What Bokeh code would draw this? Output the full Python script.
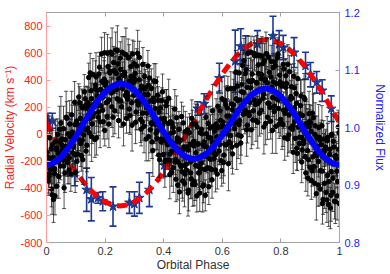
from bokeh.plotting import figure
from bokeh.models import (Range1d, LinearAxis, FixedTicker, PrintfTickFormatter,
                          NumeralTickFormatter, ColumnDataSource)
from bokeh.embed import file_html
from bokeh.resources import INLINE

# ---------------- data ----------------
X_TICKS = [0, 0.2, 0.4, 0.6, 0.8, 1.0]
RV_TICKS = [-800, -600, -400, -200, 0, 200, 400, 600, 800]
FLUX_TICKS = [0.8, 0.9, 1.0, 1.1, 1.2]

# photometric points, set A (normalized flux)
PHOT_A_PHASE = [
    0.002, 0.006, 0.011, 0.014, 0.019, 0.023, 0.027, 0.031, 0.035, 0.040, 0.044, 0.048,
    0.052, 0.057, 0.060, 0.064, 0.069, 0.073, 0.077, 0.081, 0.086, 0.089, 0.094, 0.098,
    0.102, 0.106, 0.110, 0.115, 0.119, 0.123, 0.127, 0.132, 0.135, 0.139, 0.144, 0.148,
    0.152, 0.156, 0.161, 0.165, 0.169, 0.173, 0.177, 0.181, 0.185, 0.190, 0.194, 0.198,
    0.202, 0.207, 0.210, 0.214, 0.219, 0.223, 0.227, 0.231, 0.236, 0.240, 0.244, 0.248,
    0.252, 0.256, 0.260, 0.265, 0.269, 0.273, 0.277, 0.282, 0.285, 0.289, 0.294, 0.298,
    0.302, 0.306, 0.311, 0.315, 0.319, 0.323, 0.327, 0.331, 0.335, 0.340, 0.344, 0.348,
    0.352, 0.357, 0.360, 0.364, 0.369, 0.373, 0.377, 0.381, 0.386, 0.390, 0.394, 0.398,
    0.402, 0.406, 0.410, 0.415, 0.419, 0.423, 0.427, 0.432, 0.435, 0.439, 0.444, 0.448,
    0.452, 0.456, 0.461, 0.465, 0.469, 0.473, 0.477, 0.481, 0.485, 0.490, 0.494, 0.498,
    0.502, 0.507, 0.510, 0.514, 0.519, 0.523, 0.527, 0.531, 0.536, 0.540, 0.544, 0.548,
    0.552, 0.556, 0.560, 0.565, 0.569, 0.573, 0.577, 0.582, 0.585, 0.589, 0.594, 0.598,
    0.602, 0.606, 0.611, 0.615, 0.619, 0.623, 0.627, 0.631, 0.635, 0.640, 0.644, 0.648,
    0.652, 0.657, 0.660, 0.664, 0.669, 0.673, 0.677, 0.681, 0.686, 0.690, 0.694, 0.698,
    0.702, 0.706, 0.710, 0.715, 0.719, 0.723, 0.727, 0.732, 0.735, 0.739, 0.744, 0.748,
    0.752, 0.756, 0.761, 0.765, 0.769, 0.773, 0.777, 0.781, 0.785, 0.790, 0.794, 0.798,
    0.802, 0.807, 0.810, 0.814, 0.819, 0.823, 0.827, 0.831, 0.836, 0.840, 0.844, 0.848,
    0.852, 0.856, 0.860, 0.865, 0.869, 0.873, 0.877, 0.882, 0.885, 0.889, 0.894, 0.898,
    0.902, 0.906, 0.911, 0.915, 0.919, 0.923, 0.927, 0.931, 0.935, 0.940, 0.944, 0.948,
    0.952, 0.957, 0.960, 0.964, 0.969, 0.973, 0.977, 0.981, 0.986, 0.990, 0.994, 0.998,
]
PHOT_A_FLUX = [
    0.957, 0.907, 0.982, 0.927, 0.883, 0.948, 0.920, 0.976, 0.898, 0.955, 0.997, 0.933,
    0.980, 0.943, 0.895, 0.979, 1.016, 0.939, 0.926, 0.984, 1.022, 0.956, 0.984, 0.922,
    1.011, 0.954, 1.053, 0.992, 0.951, 1.034, 0.987, 1.050, 0.959, 1.033, 1.087, 1.015,
    1.064, 1.006, 1.040, 0.979, 1.088, 1.065, 1.018, 1.105, 1.038, 1.080, 1.010, 1.130,
    1.073, 1.019, 1.106, 1.048, 1.131, 1.036, 1.018, 1.099, 1.135, 1.066, 1.111, 1.047,
    1.121, 1.036, 1.091, 1.128, 1.056, 1.016, 1.049, 1.122, 1.021, 1.089, 1.128, 1.056,
    1.094, 1.027, 1.129, 1.042, 1.064, 0.997, 1.010, 1.067, 1.089, 0.980, 1.042, 1.074,
    1.086, 1.008, 0.975, 1.051, 1.013, 1.080, 0.981, 1.047, 0.944, 1.015, 1.047, 0.978,
    1.016, 0.943, 1.045, 0.971, 0.943, 1.010, 0.922, 1.000, 0.972, 0.940, 1.017, 0.900,
    0.997, 0.935, 1.019, 0.907, 0.966, 0.919, 0.936, 0.996, 0.891, 0.971, 0.911, 1.006,
    0.976, 0.901, 0.956, 1.001, 0.921, 0.886, 0.928, 0.989, 0.900, 0.967, 1.018, 0.949,
    1.007, 0.929, 0.982, 0.909, 1.002, 0.954, 0.926, 0.984, 1.037, 0.959, 1.012, 0.925,
    1.009, 0.952, 1.040, 0.989, 1.067, 0.975, 0.973, 1.041, 0.954, 1.068, 1.026, 1.009,
    1.072, 1.005, 1.048, 0.985, 1.108, 1.061, 1.024, 1.101, 1.004, 1.081, 1.044, 1.131,
    1.093, 1.029, 1.125, 1.012, 1.078, 1.109, 1.025, 1.085, 1.124, 1.051, 1.117, 1.007,
    1.128, 1.042, 1.096, 1.011, 1.070, 1.104, 1.028, 1.107, 1.050, 1.128, 1.006, 1.075,
    1.077, 1.005, 1.102, 1.025, 1.077, 0.980, 0.987, 1.049, 1.071, 0.997, 1.089, 1.011,
    1.059, 0.955, 1.022, 0.983, 1.055, 0.961, 0.972, 1.049, 0.921, 1.007, 0.944, 1.011,
    1.008, 0.925, 1.017, 0.903, 0.955, 0.982, 0.900, 0.983, 0.925, 1.003, 0.875, 0.958,
    0.966, 0.874, 0.983, 0.906, 0.860, 0.988, 0.887, 0.966, 0.871, 0.946, 0.906, 0.991,
]
PHOT_A_ERR = [
    0.030, 0.025, 0.038, 0.022, 0.034, 0.028, 0.026, 0.035, 0.021, 0.031, 0.040, 0.024,
    0.033, 0.027, 0.036, 0.020, 0.029, 0.037, 0.024, 0.032, 0.041, 0.026, 0.022, 0.035,
    0.029, 0.038, 0.023, 0.033, 0.027, 0.031, 0.036, 0.021, 0.030, 0.039, 0.025, 0.028,
    0.027, 0.034, 0.024, 0.031, 0.042, 0.022, 0.032, 0.026, 0.037, 0.023, 0.030, 0.035,
    0.021, 0.039, 0.028, 0.033, 0.025, 0.036, 0.034, 0.024, 0.031, 0.040, 0.027, 0.022,
    0.028, 0.036, 0.023, 0.030, 0.038, 0.026, 0.037, 0.022, 0.033, 0.027, 0.024, 0.035,
    0.025, 0.031, 0.040, 0.021, 0.034, 0.029, 0.033, 0.027, 0.024, 0.038, 0.030, 0.023,
    0.022, 0.035, 0.029, 0.026, 0.041, 0.031, 0.030, 0.024, 0.037, 0.033, 0.022, 0.028,
    0.036, 0.029, 0.021, 0.034, 0.027, 0.039, 0.024, 0.033, 0.030, 0.022, 0.038, 0.026,
    0.031, 0.040, 0.025, 0.035, 0.023, 0.029, 0.027, 0.022, 0.036, 0.030, 0.034, 0.024,
    0.035, 0.028, 0.023, 0.039, 0.026, 0.032, 0.022, 0.034, 0.031, 0.025, 0.037, 0.028,
    0.029, 0.024, 0.040, 0.032, 0.021, 0.035, 0.038, 0.030, 0.026, 0.023, 0.033, 0.027,
    0.025, 0.036, 0.031, 0.028, 0.022, 0.039, 0.032, 0.023, 0.035, 0.027, 0.041, 0.024,
    0.028, 0.037, 0.022, 0.033, 0.026, 0.030, 0.035, 0.025, 0.031, 0.039, 0.023, 0.028,
    0.023, 0.032, 0.027, 0.036, 0.030, 0.021, 0.040, 0.026, 0.034, 0.024, 0.029, 0.037,
    0.027, 0.033, 0.022, 0.031, 0.038, 0.025, 0.034, 0.021, 0.036, 0.028, 0.025, 0.032,
    0.026, 0.038, 0.029, 0.023, 0.035, 0.030, 0.031, 0.024, 0.039, 0.033, 0.022, 0.027,
    0.036, 0.030, 0.025, 0.040, 0.028, 0.034, 0.023, 0.035, 0.032, 0.026, 0.037, 0.029,
    0.030, 0.027, 0.041, 0.024, 0.033, 0.038, 0.037, 0.023, 0.029, 0.035, 0.026, 0.031,
    0.028, 0.039, 0.024, 0.032, 0.036, 0.022, 0.033, 0.026, 0.038, 0.030, 0.024, 0.035,
]

# photometric points, set B
PHOT_B_PHASE = [
    0.004, 0.008, 0.013, 0.017, 0.021, 0.024, 0.029, 0.033, 0.038, 0.042, 0.046, 0.049,
    0.054, 0.058, 0.063, 0.067, 0.071, 0.074, 0.079, 0.083, 0.088, 0.092, 0.096, 0.099,
    0.104, 0.108, 0.113, 0.117, 0.121, 0.124, 0.129, 0.133, 0.138, 0.142, 0.146, 0.149,
    0.154, 0.158, 0.163, 0.167, 0.171, 0.174, 0.179, 0.183, 0.188, 0.192, 0.196, 0.199,
    0.204, 0.208, 0.213, 0.217, 0.221, 0.224, 0.229, 0.233, 0.238, 0.242, 0.246, 0.249,
    0.254, 0.258, 0.263, 0.267, 0.271, 0.274, 0.279, 0.283, 0.288, 0.292, 0.296, 0.299,
    0.304, 0.308, 0.313, 0.317, 0.321, 0.324, 0.329, 0.333, 0.338, 0.342, 0.346, 0.349,
    0.354, 0.358, 0.363, 0.367, 0.371, 0.374, 0.379, 0.383, 0.388, 0.392, 0.396, 0.399,
    0.404, 0.408, 0.413, 0.417, 0.421, 0.424, 0.429, 0.433, 0.438, 0.442, 0.446, 0.449,
    0.454, 0.458, 0.463, 0.467, 0.471, 0.474, 0.479, 0.483, 0.488, 0.492, 0.496, 0.499,
    0.504, 0.508, 0.513, 0.517, 0.521, 0.524, 0.529, 0.533, 0.538, 0.542, 0.546, 0.549,
    0.554, 0.558, 0.563, 0.567, 0.571, 0.574, 0.579, 0.583, 0.588, 0.592, 0.596, 0.599,
    0.604, 0.608, 0.613, 0.617, 0.621, 0.624, 0.629, 0.633, 0.638, 0.642, 0.646, 0.649,
    0.654, 0.658, 0.663, 0.667, 0.671, 0.674, 0.679, 0.683, 0.688, 0.692, 0.696, 0.699,
    0.704, 0.708, 0.713, 0.717, 0.721, 0.724, 0.729, 0.733, 0.738, 0.742, 0.746, 0.749,
    0.754, 0.758, 0.763, 0.767, 0.771, 0.774, 0.779, 0.783, 0.788, 0.792, 0.796, 0.799,
    0.804, 0.808, 0.813, 0.817, 0.821, 0.824, 0.829, 0.833, 0.838, 0.842, 0.846, 0.849,
    0.854, 0.858, 0.863, 0.867, 0.871, 0.874, 0.879, 0.883, 0.888, 0.892, 0.896, 0.899,
    0.904, 0.908, 0.913, 0.917, 0.921, 0.924, 0.929, 0.933, 0.938, 0.942, 0.946, 0.949,
    0.954, 0.958, 0.963, 0.967, 0.971, 0.974, 0.979, 0.983, 0.988, 0.992, 0.996, 0.999,
]
PHOT_B_FLUX = [
    0.985, 0.915, 0.946, 0.893, 0.970, 0.875, 0.881, 0.962, 0.988, 0.915, 0.951, 1.008,
    0.960, 0.998, 0.921, 1.018, 0.941, 0.989, 1.006, 0.919, 0.992, 0.966, 1.044, 0.952,
    0.941, 1.004, 1.043, 0.972, 1.036, 0.944, 1.062, 0.996, 0.969, 1.043, 0.991, 1.095,
    0.984, 1.092, 1.025, 1.074, 0.982, 1.055, 1.093, 1.010, 1.128, 1.030, 1.078, 0.995,
    1.043, 1.129, 1.006, 1.098, 1.060, 1.128, 1.113, 1.029, 1.094, 1.134, 1.012, 1.082,
    1.046, 1.131, 1.006, 1.096, 1.127, 1.061, 1.121, 1.032, 1.106, 1.004, 1.078, 1.111,
    1.009, 1.107, 1.039, 1.122, 1.014, 1.072, 1.110, 1.002, 1.069, 1.025, 1.107, 0.984,
    0.996, 1.068, 0.960, 1.081, 1.033, 0.990, 1.056, 0.952, 1.034, 0.980, 1.062, 0.953,
    0.941, 1.038, 0.970, 1.051, 0.918, 0.990, 1.007, 0.930, 1.032, 0.910, 0.982, 0.940,
    0.888, 0.978, 0.923, 1.008, 0.903, 0.993, 0.966, 0.886, 0.991, 0.921, 1.016, 0.901,
    0.906, 1.006, 0.881, 0.971, 0.931, 0.991, 0.997, 0.898, 0.975, 0.882, 0.989, 0.930,
    0.897, 0.999, 0.927, 1.029, 0.957, 0.994, 1.006, 0.919, 0.982, 1.029, 0.942, 1.050,
    0.939, 1.047, 0.970, 1.034, 0.937, 1.020, 1.068, 0.966, 1.039, 0.998, 1.096, 0.969,
    0.987, 1.095, 0.973, 1.075, 1.023, 1.116, 1.094, 0.996, 1.129, 1.021, 1.079, 0.996,
    1.013, 1.129, 1.040, 1.126, 1.009, 1.094, 1.125, 1.030, 1.111, 1.001, 1.081, 1.128,
    1.018, 1.122, 1.035, 1.115, 0.995, 1.079, 1.114, 1.002, 1.121, 1.033, 1.091, 1.014,
    1.007, 1.110, 0.982, 1.090, 1.032, 1.110, 1.097, 0.999, 1.051, 0.957, 1.069, 0.981,
    0.964, 1.085, 0.972, 1.038, 0.940, 1.021, 1.052, 0.949, 1.001, 0.912, 1.024, 0.931,
    0.908, 1.025, 0.932, 1.003, 0.885, 0.967, 1.000, 0.893, 0.970, 0.868, 0.980, 0.903,
    0.887, 0.977, 0.866, 0.962, 0.882, 0.987, 0.976, 0.872, 0.951, 0.881, 1.001, 0.868,
]
PHOT_B_ERR = [
    0.036, 0.029, 0.044, 0.031, 0.025, 0.040, 0.033, 0.042, 0.027, 0.038, 0.030, 0.046,
    0.028, 0.039, 0.034, 0.045, 0.026, 0.037, 0.041, 0.030, 0.047, 0.029, 0.036, 0.032,
    0.035, 0.044, 0.028, 0.040, 0.031, 0.043, 0.030, 0.037, 0.046, 0.027, 0.039, 0.034,
    0.043, 0.028, 0.035, 0.042, 0.030, 0.038, 0.031, 0.045, 0.029, 0.036, 0.044, 0.027,
    0.039, 0.033, 0.041, 0.026, 0.037, 0.045, 0.028, 0.040, 0.035, 0.043, 0.030, 0.036,
    0.044, 0.027, 0.038, 0.032, 0.046, 0.029, 0.033, 0.041, 0.026, 0.045, 0.034, 0.039,
    0.037, 0.030, 0.043, 0.028, 0.040, 0.035, 0.029, 0.046, 0.032, 0.038, 0.027, 0.042,
    0.040, 0.034, 0.045, 0.030, 0.036, 0.028, 0.032, 0.039, 0.027, 0.044, 0.031, 0.041,
    0.045, 0.028, 0.037, 0.033, 0.042, 0.030, 0.030, 0.043, 0.034, 0.039, 0.026, 0.044,
    0.038, 0.031, 0.046, 0.029, 0.041, 0.035, 0.027, 0.040, 0.033, 0.045, 0.032, 0.038,
    0.042, 0.035, 0.028, 0.040, 0.044, 0.031, 0.034, 0.045, 0.039, 0.027, 0.036, 0.043,
    0.031, 0.038, 0.029, 0.046, 0.033, 0.040, 0.044, 0.026, 0.041, 0.035, 0.030, 0.037,
    0.036, 0.043, 0.032, 0.039, 0.047, 0.028, 0.029, 0.037, 0.045, 0.031, 0.038, 0.042,
    0.041, 0.032, 0.036, 0.044, 0.027, 0.039, 0.035, 0.046, 0.030, 0.037, 0.042, 0.033,
    0.043, 0.029, 0.040, 0.034, 0.045, 0.031, 0.030, 0.041, 0.036, 0.047, 0.032, 0.038,
    0.039, 0.034, 0.044, 0.028, 0.040, 0.045, 0.032, 0.047, 0.031, 0.042, 0.035, 0.029,
    0.045, 0.036, 0.039, 0.030, 0.043, 0.034, 0.028, 0.040, 0.046, 0.037, 0.031, 0.042,
    0.038, 0.032, 0.029, 0.045, 0.036, 0.040, 0.042, 0.037, 0.044, 0.031, 0.039, 0.027,
    0.033, 0.045, 0.030, 0.040, 0.046, 0.035, 0.040, 0.029, 0.043, 0.036, 0.032, 0.044,
    0.035, 0.042, 0.038, 0.027, 0.045, 0.037, 0.044, 0.031, 0.036, 0.042, 0.029, 0.040,
]

# photometric points, set C
PHOT_C_PHASE = [
    0.003, 0.009, 0.016, 0.022, 0.028, 0.034, 0.041, 0.047, 0.053, 0.059, 0.066, 0.072,
    0.078, 0.084, 0.091, 0.097, 0.103, 0.109, 0.116, 0.122, 0.128, 0.134, 0.141, 0.147,
    0.153, 0.159, 0.166, 0.172, 0.178, 0.184, 0.191, 0.197, 0.203, 0.209, 0.216, 0.222,
    0.228, 0.234, 0.241, 0.247, 0.253, 0.259, 0.266, 0.272, 0.278, 0.284, 0.291, 0.297,
    0.303, 0.309, 0.316, 0.322, 0.328, 0.334, 0.341, 0.347, 0.353, 0.359, 0.366, 0.372,
    0.378, 0.384, 0.391, 0.397, 0.403, 0.409, 0.416, 0.422, 0.428, 0.434, 0.441, 0.447,
    0.453, 0.459, 0.466, 0.472, 0.478, 0.484, 0.491, 0.497, 0.503, 0.509, 0.516, 0.522,
    0.528, 0.534, 0.541, 0.547, 0.553, 0.559, 0.566, 0.572, 0.578, 0.584, 0.591, 0.597,
    0.603, 0.609, 0.616, 0.622, 0.628, 0.634, 0.641, 0.647, 0.653, 0.659, 0.666, 0.672,
    0.678, 0.684, 0.691, 0.697, 0.703, 0.709, 0.716, 0.722, 0.728, 0.734, 0.741, 0.747,
    0.753, 0.759, 0.766, 0.772, 0.778, 0.784, 0.791, 0.797, 0.803, 0.809, 0.816, 0.822,
    0.828, 0.834, 0.841, 0.847, 0.853, 0.859, 0.866, 0.872, 0.878, 0.884, 0.891, 0.897,
    0.903, 0.909, 0.916, 0.922, 0.928, 0.934, 0.941, 0.947, 0.953, 0.959, 0.966, 0.972,
    0.978, 0.984, 0.991, 0.997,
]
PHOT_C_FLUX = [
    0.949, 0.919, 0.963, 0.930, 0.928, 0.964, 0.940, 0.975, 0.969, 0.933, 0.967, 0.951,
    0.947, 0.986, 0.968, 1.005, 1.009, 0.980, 1.016, 0.978, 0.998, 1.039, 0.999, 1.036,
    1.050, 1.019, 1.067, 1.038, 1.027, 1.066, 1.052, 1.084, 1.079, 1.045, 1.095, 1.061,
    1.063, 1.097, 1.050, 1.085, 1.101, 1.068, 1.091, 1.054, 1.055, 1.081, 1.043, 1.087,
    1.083, 1.046, 1.083, 1.048, 1.025, 1.057, 1.034, 1.057, 1.046, 1.006, 1.045, 1.005,
    0.994, 1.027, 0.975, 1.004, 1.010, 0.976, 1.007, 0.954, 0.959, 0.992, 0.944, 0.976,
    0.975, 0.932, 0.962, 0.934, 0.926, 0.961, 0.940, 0.971, 0.968, 0.934, 0.972, 0.922,
    0.938, 0.970, 0.927, 0.966, 0.983, 0.945, 0.975, 0.946, 0.953, 1.000, 0.970, 1.001,
    1.003, 0.970, 1.020, 0.997, 0.986, 1.031, 1.007, 1.050, 1.047, 1.012, 1.062, 1.031,
    1.030, 1.070, 1.026, 1.069, 1.082, 1.048, 1.078, 1.042, 1.046, 1.092, 1.058, 1.084,
    1.078, 1.042, 1.088, 1.052, 1.037, 1.076, 1.048, 1.079, 1.072, 1.030, 1.070, 1.034,
    1.022, 1.054, 1.003, 1.034, 1.042, 1.001, 1.023, 0.982, 0.977, 1.006, 0.960, 1.001,
    0.993, 0.949, 0.988, 0.951, 0.941, 0.978, 0.924, 0.961, 0.965, 0.917, 0.953, 0.923,
    0.912, 0.950, 0.924, 0.962,
]
PHOT_C_ERR = [
    0.030, 0.026, 0.034, 0.028, 0.032, 0.027, 0.036, 0.029, 0.025, 0.033, 0.030, 0.035,
    0.031, 0.028, 0.026, 0.034, 0.029, 0.035, 0.027, 0.031, 0.033, 0.026, 0.032, 0.028,
    0.027, 0.034, 0.029, 0.036, 0.035, 0.030, 0.025, 0.032, 0.028, 0.031, 0.035, 0.026,
    0.034, 0.027, 0.030, 0.033, 0.026, 0.036, 0.028, 0.031, 0.032, 0.025, 0.034, 0.029,
    0.030, 0.033, 0.027, 0.035, 0.036, 0.029, 0.031, 0.026, 0.027, 0.032, 0.035, 0.030,
    0.033, 0.028, 0.026, 0.034, 0.029, 0.035, 0.031, 0.027, 0.025, 0.030, 0.034, 0.032,
    0.031, 0.027, 0.029, 0.036, 0.034, 0.026, 0.033, 0.028, 0.028, 0.032, 0.036, 0.030,
    0.035, 0.029, 0.026, 0.033, 0.030, 0.034, 0.028, 0.025, 0.026, 0.031, 0.035, 0.029,
    0.033, 0.027, 0.030, 0.036, 0.029, 0.035, 0.032, 0.026, 0.032, 0.028, 0.025, 0.034,
    0.027, 0.033, 0.031, 0.029, 0.036, 0.030, 0.027, 0.032, 0.031, 0.026, 0.034, 0.028,
    0.028, 0.035, 0.029, 0.033, 0.034, 0.029, 0.036, 0.027, 0.025, 0.032, 0.030, 0.035,
    0.030, 0.028, 0.033, 0.026, 0.033, 0.027, 0.031, 0.036, 0.029, 0.034, 0.026, 0.030,
    0.035, 0.028, 0.032, 0.027, 0.027, 0.031, 0.035, 0.029, 0.032, 0.026, 0.030, 0.034,
    0.028, 0.033, 0.029, 0.031,
]

# radial-velocity points (km/s)
RV_PHASE = [0.005, 0.020, 0.096, 0.137, 0.153, 0.176, 0.192, 0.227, 0.283, 0.300,
            0.317, 0.351, 0.402, 0.415, 0.516, 0.538, 0.590, 0.644, 0.663, 0.680,
            0.720, 0.773, 0.794, 0.808, 0.845, 0.884, 0.901, 0.922, 0.941, 0.972]
RV_VAL = [90, 100, -290, -410, -480, -470, -495, -534, -505, -515,
          -470, -410, -230, -195, 190, 225, 415, 540, 650, 617,
          666, 727, 666, 641, 604, 506, 440, 384, 323, 189]
RV_ERR = [65, 55, 90, 160, 160, 40, 70, 145, 80, 90,
          115, 125, 80, 60, 50, 75, 110, 230, 130, 110,
          100, 145, 100, 90, 110, 100, 90, 80, 80, 95]

# model curves
MODEL_PHASE = [0.0, 0.025, 0.05, 0.075, 0.1, 0.125, 0.15, 0.175, 0.2, 0.225,
               0.25, 0.275, 0.3, 0.325, 0.35, 0.375, 0.4, 0.425, 0.45, 0.475,
               0.5, 0.525, 0.55, 0.575, 0.6, 0.625, 0.65, 0.675, 0.7, 0.725,
               0.75, 0.775, 0.8, 0.825, 0.85, 0.875, 0.9, 0.925, 0.95, 0.975, 1.0]
RV_MODEL = [85, -11, -105, -194, -277, -350, -413, -463, -500, -522,
            -530, -522, -500, -463, -413, -350, -277, -194, -105, -11,
            85, 181, 275, 364, 446, 520, 583, 633, 670, 692,
            700, 692, 670, 633, 583, 520, 446, 364, 275, 181, 85]
FLUX_MODEL = [0.935, 0.939, 0.949, 0.965, 0.984, 1.006, 1.027, 1.047, 1.062, 1.072,
              1.077, 1.074, 1.065, 1.051, 1.033, 1.013, 0.992, 0.974, 0.959, 0.949,
              0.945, 0.948, 0.956, 0.970, 0.987, 1.006, 1.026, 1.043, 1.057, 1.065,
              1.068, 1.064, 1.054, 1.039, 1.020, 0.999, 0.979, 0.961, 0.947, 0.938, 0.935]

# ---------------- figure ----------------
FONT = "Liberation Sans"
p = figure(width=390, height=274, x_range=Range1d(0, 1), y_range=Range1d(-800, 900),
           output_backend="svg", toolbar_location=None,
           min_border_left=45, min_border_right=51, min_border_top=12, min_border_bottom=31)
p.extra_y_ranges = {"flux": Range1d(0.8, 1.2)}
p.grid.visible = False
p.outline_line_color = None
p.background_fill_color = "white"
p.border_fill_color = "white"


def style_axis(ax, line_color, label_color, ticks, fmt):
    ax.ticker = FixedTicker(ticks=ticks)
    ax.formatter = fmt
    ax.axis_line_color = line_color
    ax.major_tick_line_color = line_color
    ax.major_tick_in = 4
    ax.major_tick_out = 0
    ax.minor_tick_line_color = None
    ax.major_label_text_color = label_color
    ax.major_label_text_font = FONT
    ax.major_label_text_font_size = "11px"
    ax.major_label_standoff = 4
    ax.axis_label_text_font = FONT
    ax.axis_label_text_font_size = "12px"
    ax.axis_label_text_font_style = "normal"


style_axis(p.xaxis[0], "#a0a0a0", "#333333", X_TICKS, PrintfTickFormatter(format="%g"))
p.xaxis[0].axis_label = "Orbital Phase"
p.xaxis[0].axis_label_text_color = "#333333"
p.xaxis[0].axis_label_standoff = 0

style_axis(p.yaxis[0], "#ff9c9c", "#ff2020", RV_TICKS, PrintfTickFormatter(format="%d"))
p.yaxis[0].axis_label = "Radial Velocity (km s⁻¹)"
p.yaxis[0].axis_label_text_color = "#ff2020"
p.yaxis[0].axis_label_standoff = 0

right = LinearAxis(y_range_name="flux")
style_axis(right, "#9c9cf0", "#2020ff", FLUX_TICKS, NumeralTickFormatter(format="0.0"))
right.major_label_standoff = 5
right.axis_label = "Normalized Flux"
right.axis_label_text_color = "#2020ff"
right.axis_label_standoff = 10
p.add_layout(right, "right")

top = LinearAxis()
style_axis(top, "#a0a0a0", "#333333", X_TICKS, PrintfTickFormatter(format="%g"))
top.major_label_overrides = {t: "" for t in X_TICKS}
top.major_label_standoff = 0
p.add_layout(top, "above")

# RV data (navy stars with error bars)
rv_src = ColumnDataSource(dict(
    x=RV_PHASE, y=RV_VAL,
    lo=[v - e for v, e in zip(RV_VAL, RV_ERR)],
    hi=[v + e for v, e in zip(RV_VAL, RV_ERR)]))
NAVY = "#1c3a94"
p.segment(x0="x", y0="lo", x1="x", y1="hi", source=rv_src, line_color=NAVY, line_width=1.6)
p.scatter(x="x", y="lo", source=rv_src, marker="dash", size=7, line_color=NAVY, line_width=1.6)
p.scatter(x="x", y="hi", source=rv_src, marker="dash", size=7, line_color=NAVY, line_width=1.6)
p.scatter(x="x", y="y", source=rv_src, marker="star", size=10, fill_color=NAVY,
          line_color=NAVY)

# RV model (red dashed)
p.line(MODEL_PHASE, RV_MODEL, line_color="#ff0000", line_width=5, line_dash="10 6")

# photometric data (black with error bars)
ph_x = PHOT_A_PHASE + PHOT_B_PHASE + PHOT_C_PHASE
ph_y = PHOT_A_FLUX + PHOT_B_FLUX + PHOT_C_FLUX
ph_e = PHOT_A_ERR + PHOT_B_ERR + PHOT_C_ERR
ph_src = ColumnDataSource(dict(
    x=ph_x, y=ph_y,
    lo=[v - e for v, e in zip(ph_y, ph_e)],
    hi=[v + e for v, e in zip(ph_y, ph_e)]))
EB = "#1e1e1e"
p.segment(x0="x", y0="lo", x1="x", y1="hi", source=ph_src, y_range_name="flux",
          line_color=EB, line_alpha=0.75, line_width=1)
p.scatter(x="x", y="lo", source=ph_src, y_range_name="flux", marker="dash", size=4,
          line_color=EB, line_alpha=0.75)
p.scatter(x="x", y="hi", source=ph_src, y_range_name="flux", marker="dash", size=4,
          line_color=EB, line_alpha=0.75)
p.scatter(x="x", y="y", source=ph_src, y_range_name="flux", size=4.5,
          fill_color="black", line_color="black")

# flux model (thick blue)
p.line(MODEL_PHASE, FLUX_MODEL, y_range_name="flux", line_color="#0000ff", line_width=6)

open("out.html", "w").write(file_html(p, INLINE))
